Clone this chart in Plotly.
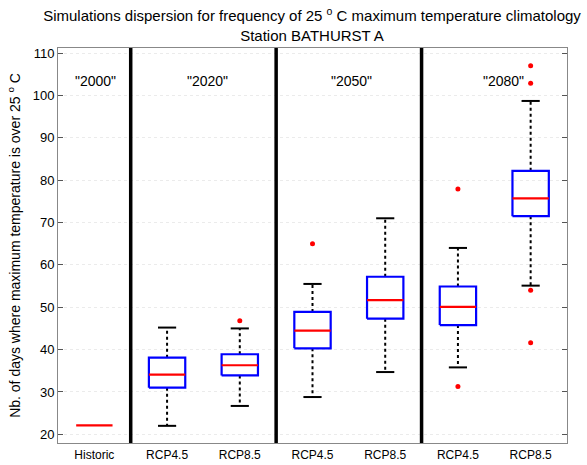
import plotly.graph_objects as go

categories = ["Historic", "RCP4.5", "RCP8.5", "RCP4.5", "RCP8.5", "RCP4.5", "RCP8.5"]
positions = [1, 2, 3, 4, 5, 6, 7]
medians = [22.1, 34.1, 36.3, 44.5, 51.7, 50.1, 75.7]
q1 = [None, 31.0, 33.9, 40.3, 47.3, 45.8, 71.5]
q3 = [None, 38.1, 38.9, 48.9, 57.2, 54.9, 82.2]
lower_whisker = [None, 22.0, 26.7, 28.8, 34.7, 35.8, 55.1]
upper_whisker = [None, 45.2, 45.0, 55.5, 71.0, 64.0, 98.7]
outliers = [[], [], [46.8], [65.0], [], [77.9, 31.3], [107.0, 102.9, 54.0, 41.6]]
period_labels = ['"2000"', '"2020"', '"2050"', '"2080"']
period_label_x = [1.02, 2.56, 4.53, 6.63]
period_label_y = 103.3
separators = [1.5, 3.5, 5.5]

BOX_HALF = 0.25
CAP_HALF = 0.125
FONT = "Liberation Sans, Arial, sans-serif"

wx, wy, cx, cy, bx, by, mx, my, ox, oy = [], [], [], [], [], [], [], [], [], []
for i, p in enumerate(positions):
    mx += [p - BOX_HALF, p + BOX_HALF, None]
    my += [medians[i], medians[i], None]
    for v in outliers[i]:
        ox.append(p)
        oy.append(v)
    if q1[i] is None:
        continue
    wx += [p, p, None, p, p, None]
    wy += [q3[i], upper_whisker[i], None, q1[i], lower_whisker[i], None]
    cx += [p - CAP_HALF, p + CAP_HALF, None, p - CAP_HALF, p + CAP_HALF, None]
    cy += [upper_whisker[i], upper_whisker[i], None, lower_whisker[i], lower_whisker[i], None]
    bx += [p - BOX_HALF, p + BOX_HALF, p + BOX_HALF, p - BOX_HALF, p - BOX_HALF, None]
    by += [q1[i], q1[i], q3[i], q3[i], q1[i], None]

fig = go.Figure()
fig.add_trace(go.Scatter(x=wx, y=wy, mode="lines",
                         line=dict(color="black", width=2, dash="dot"), hoverinfo="skip"))
fig.add_trace(go.Scatter(x=cx, y=cy, mode="lines",
                         line=dict(color="black", width=2), hoverinfo="skip"))
fig.add_trace(go.Scatter(x=bx, y=by, mode="lines",
                         line=dict(color="#0000ff", width=2.2), hoverinfo="skip"))
fig.add_trace(go.Scatter(x=mx, y=my, mode="lines",
                         line=dict(color="#ff0000", width=2.2), hoverinfo="skip"))
fig.add_trace(go.Scatter(x=ox, y=oy, mode="markers",
                         marker=dict(color="#ff0000", size=5), hoverinfo="skip"))

for s in separators:
    fig.add_shape(type="line", xref="x", yref="paper", x0=s, x1=s, y0=0, y1=1,
                  line=dict(color="black", width=3.5))

for t, x in zip(period_labels, period_label_x):
    fig.add_annotation(x=x, y=period_label_y, xref="x", yref="y", text=t,
                       showarrow=False, font=dict(family=FONT, size=14, color="black"))

fig.update_layout(
    width=587, height=465,
    margin=dict(l=58, r=20, t=48, b=22, autoexpand=False),
    paper_bgcolor="white", plot_bgcolor="white",
    showlegend=False,
    font=dict(family=FONT, color="black"),
    title=dict(text="Simulations dispersion for frequency of 25 <sup>o</sup> C maximum temperature climatology<br>Station BATHURST A",
               x=312 / 587, xanchor="center", xref="container",
               y=1 - 21 / 465, yanchor="middle",
               font=dict(family=FONT, size=15, color="black")),
    xaxis=dict(range=[0.5, 7.5], tickmode="array", tickvals=positions, ticktext=categories,
               showgrid=False, zeroline=False, showline=True, linecolor="#888888",
               linewidth=1, mirror=True, ticks="outside", ticklen=1,
               tickcolor="rgba(0,0,0,0)", automargin=False,
               tickfont=dict(size=12, color="black")),
    yaxis=dict(range=[17.95, 111.2], tickmode="array", tickvals=[20, 30, 40, 50, 60, 70, 80, 90, 100, 110],
               showgrid=True, gridcolor="#ebebeb", griddash="dot", gridwidth=1,
               zeroline=False, showline=True, linecolor="#888888", linewidth=1, mirror="ticks",
               ticks="inside", ticklen=5, tickcolor="#555555", automargin=False,
               tickfont=dict(size=13, color="black"),
               title=dict(text="Nb. of days where maximum temperature is over 25 <sup>o</sup> C",
                          font=dict(size=14, color="black"), standoff=8)),
)

fig.write_html("out.html")
